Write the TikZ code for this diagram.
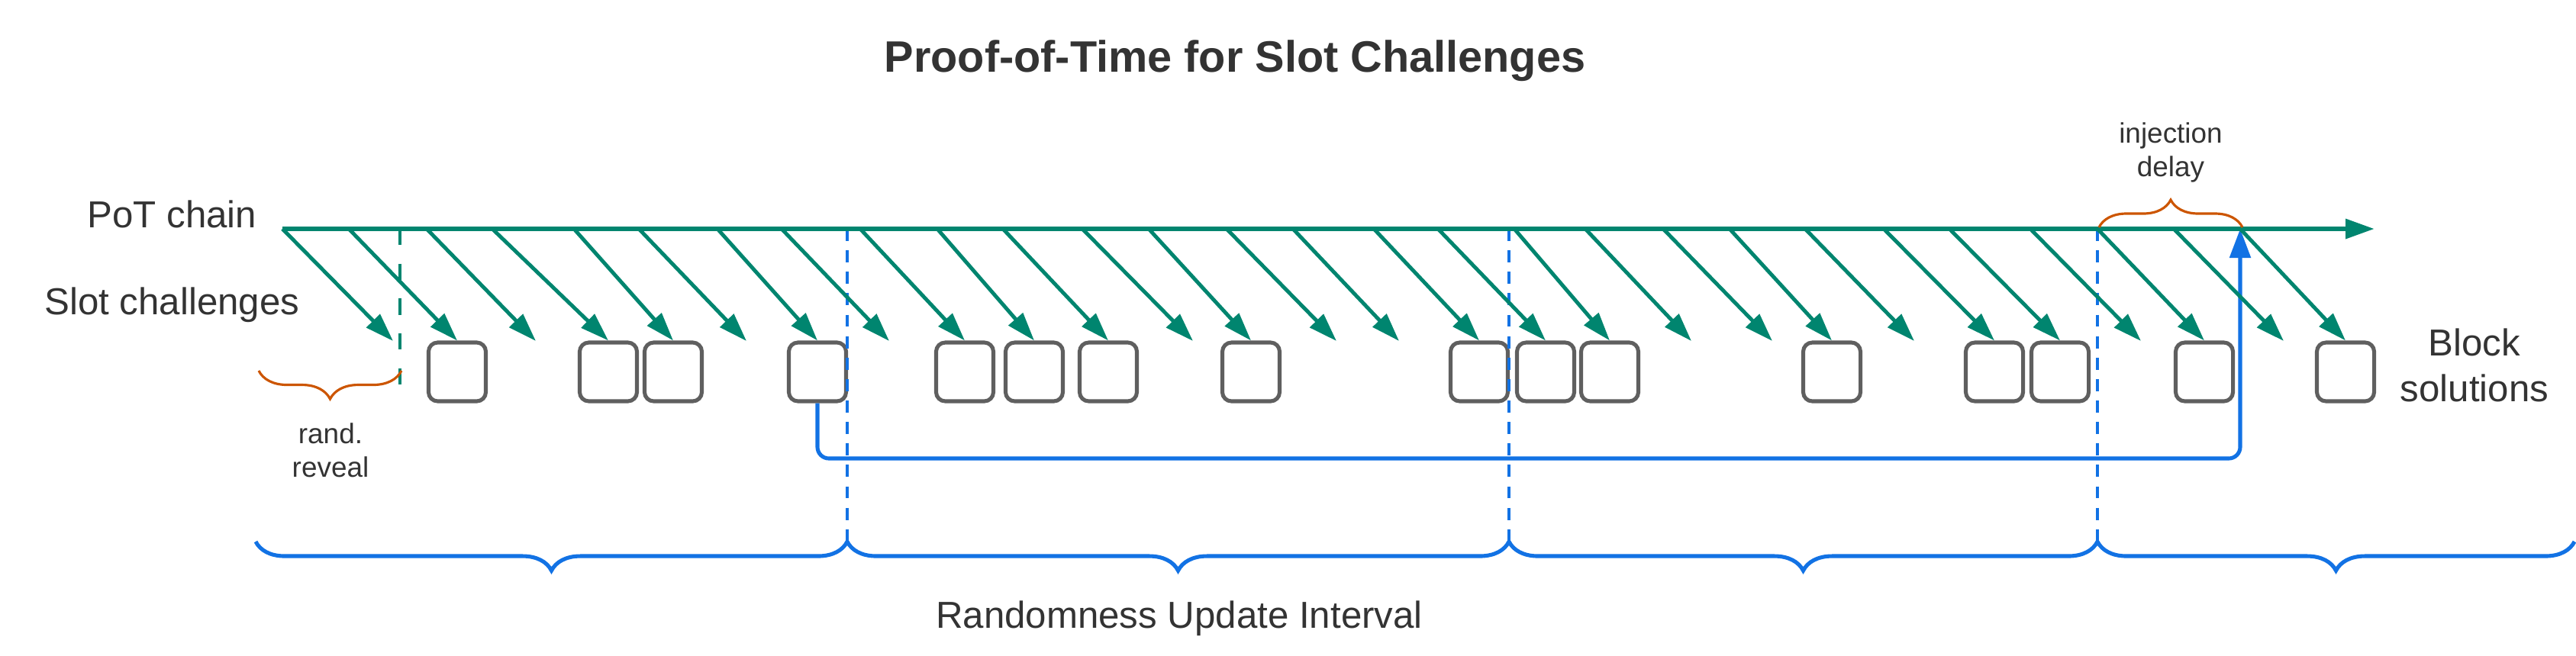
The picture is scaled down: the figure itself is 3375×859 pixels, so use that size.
\documentclass[tikz,border=0pt]{standalone}
\usepackage{fontspec}
\setmainfont{Liberation Sans}
\usetikzlibrary{arrows.meta,decorations.pathreplacing}
\definecolor{potgreen}{RGB}{0,133,111}
\definecolor{randblue}{RGB}{18,114,228}
\definecolor{delayorange}{RGB}{204,85,0}
\definecolor{boxgray}{RGB}{95,95,95}
\definecolor{textgray}{RGB}{51,51,51}
\tikzset{
  potchain/.style={draw=potgreen,line width=1.85pt,-{Triangle[length=10.8pt,width=7.1pt]}},
  slotarrow/.style={draw=potgreen,line width=1.4pt,-{Triangle[length=10.6pt,width=6.9pt]}},
  slot/.style={draw=boxgray,line width=1.45pt,rounded corners=0.12cm,minimum width=0.75cm,minimum height=0.77cm,inner sep=0},
  divider/.style={draw=randblue,line width=1pt,dash pattern=on 4.5pt off 3.5pt},
  revealline/.style={draw=potgreen,line width=1.2pt,dash pattern=on 6pt off 7pt},
  interval/.style={draw=randblue,line width=1.45pt,decorate,decoration={brace,mirror,amplitude=0.38cm}},
  revealbrace/.style={draw=delayorange,line width=0.9pt,decorate,decoration={brace,mirror,amplitude=0.37cm}},
  delaybrace/.style={draw=delayorange,line width=0.9pt,decorate,decoration={brace,amplitude=0.36cm}},
  inject/.style={draw=randblue,line width=1.45pt,rounded corners=0.15cm,-{Triangle[length=10.8pt,width=7.7pt]}},
  titletext/.style={text=textgray,font=\fontsize{16.4}{20}\selectfont\bfseries,inner sep=0},
  bigtext/.style={text=textgray,font=\fontsize{14}{17}\selectfont,inner sep=0},
  smalltext/.style={text=textgray,font=\fontsize{10.5}{12.5}\selectfont,inner sep=0,align=center}
}
\begin{document}
\begin{tikzpicture}[x=0.01cm,y=-0.01cm]
\useasboundingbox (0,0) rectangle (3375,859);
\node[titletext,anchor=base] (title) at (1618,94) {Proof-of-Time for Slot Challenges};
\node[bigtext,anchor=base east] (chainlabel) at (337,298) {PoT chain};
\node[bigtext,anchor=base east] (slotlabel) at (393,412) {Slot challenges};
\node[bigtext,anchor=north,align=center] (blocklabel) at (3242,430) {Block\\solutions};
\node[bigtext,anchor=base] (intervallabel) at (1545,823) {Randomness Update Interval};
\node[smalltext,anchor=north] (revealtext) at (433,554) {rand.\\reveal};
\node[smalltext,anchor=north] (delaytext) at (2844,160) {injection\\delay};
\coordinate (c1) at (370,300);
\coordinate (c2) at (457,300);
\coordinate (c3) at (559,300);
\coordinate (c4) at (645,300);
\coordinate (c5) at (752,300);
\coordinate (c6) at (837,300);
\coordinate (c7) at (940,300);
\coordinate (c8) at (1024,300);
\coordinate (c9) at (1127,300);
\coordinate (c10) at (1228,300);
\coordinate (c11) at (1314,300);
\coordinate (c12) at (1418,300);
\coordinate (c13) at (1505,300);
\coordinate (c14) at (1607,300);
\coordinate (c15) at (1694,300);
\coordinate (c16) at (1800,300);
\coordinate (c17) at (1884,300);
\coordinate (c18) at (1984,300);
\coordinate (c19) at (2077,300);
\coordinate (c20) at (2179,300);
\coordinate (c21) at (2266,300);
\coordinate (c22) at (2365,300);
\coordinate (c23) at (2468,300);
\coordinate (c24) at (2554,300);
\coordinate (c25) at (2660,300);
\coordinate (c26) at (2748,300);
\coordinate (c27) at (2848,300);
\coordinate (c28) at (2935,300);
\coordinate (chainend) at (3111,300);
\coordinate (t1) at (515,447);
\coordinate (t3) at (702,447);
\coordinate (t6) at (978,447);
\coordinate (t8) at (1165,447);
\coordinate (t12) at (1563,447);
\coordinate (t14) at (1751,447);
\coordinate (t15) at (1833,447);
\coordinate (t19) at (2216,447);
\coordinate (t20) at (2322,447);
\coordinate (t22) at (2508,447);
\coordinate (t25) at (2805,447);
\coordinate (t27) at (2992,447);
\coordinate (turn) at (2935,601);
\coordinate (rv0) at (524,300);
\coordinate (rv1) at (524,505);
\coordinate (r0) at (339,486);
\coordinate (r1) at (526,486);
\coordinate (j0) at (2750,298);
\coordinate (j1) at (2938,298);
\coordinate (d1) at (1110,300);
\coordinate (d2) at (1977,300);
\coordinate (d3) at (2748,300);
\coordinate (b0) at (335,710);
\coordinate (b1) at (1110,710);
\coordinate (b2) at (1977,710);
\coordinate (b3) at (2748,710);
\coordinate (b4) at (3373,710);
\node[slot] (s2) at (599,487.5) {};
\node[slot] (s4) at (797,487.5) {};
\node[slot] (s5) at (882,487.5) {};
\node[slot] (s7) at (1071,487.5) {};
\node[slot] (s9) at (1264,487.5) {};
\node[slot] (s10) at (1355,487.5) {};
\node[slot] (s11) at (1452,487.5) {};
\node[slot] (s13) at (1639,487.5) {};
\node[slot] (s16) at (1938,487.5) {};
\node[slot] (s17) at (2025,487.5) {};
\node[slot] (s18) at (2109,487.5) {};
\node[slot] (s21) at (2400,487.5) {};
\node[slot] (s23) at (2613,487.5) {};
\node[slot] (s24) at (2699,487.5) {};
\node[slot] (s26) at (2888,487.5) {};
\node[slot] (s28) at (3073,487.5) {};
\draw[inject] (s7.south) |- (turn) -- (c28);
\draw[divider] (d1) -- (b1);
\draw[divider] (d2) -- (b2);
\draw[divider] (d3) -- (b3);
\draw[revealline] (rv0) -- (rv1);
\draw[slotarrow] (c1) -- (t1);
\draw[slotarrow] (c2) -- (s2.north);
\draw[slotarrow] (c3) -- (t3);
\draw[slotarrow] (c4) -- (s4.north);
\draw[slotarrow] (c5) -- (s5.north);
\draw[slotarrow] (c6) -- (t6);
\draw[slotarrow] (c7) -- (s7.north);
\draw[slotarrow] (c8) -- (t8);
\draw[slotarrow] (c9) -- (s9.north);
\draw[slotarrow] (c10) -- (s10.north);
\draw[slotarrow] (c11) -- (s11.north);
\draw[slotarrow] (c12) -- (t12);
\draw[slotarrow] (c13) -- (s13.north);
\draw[slotarrow] (c14) -- (t14);
\draw[slotarrow] (c15) -- (t15);
\draw[slotarrow] (c16) -- (s16.north);
\draw[slotarrow] (c17) -- (s17.north);
\draw[slotarrow] (c18) -- (s18.north);
\draw[slotarrow] (c19) -- (t19);
\draw[slotarrow] (c20) -- (t20);
\draw[slotarrow] (c21) -- (s21.north);
\draw[slotarrow] (c22) -- (t22);
\draw[slotarrow] (c23) -- (s23.north);
\draw[slotarrow] (c24) -- (s24.north);
\draw[slotarrow] (c25) -- (t25);
\draw[slotarrow] (c26) -- (s26.north);
\draw[slotarrow] (c27) -- (t27);
\draw[slotarrow] (c28) -- (s28.north);
\draw[potchain] (c1) -- (chainend);
\draw[revealbrace] (r0) -- (r1);
\draw[delaybrace] (j0) -- (j1);
\draw[interval] (b0) -- (b1);
\draw[interval] (b1) -- (b2);
\draw[interval] (b2) -- (b3);
\draw[interval] (b3) -- (b4);
\end{tikzpicture}
\end{document}
